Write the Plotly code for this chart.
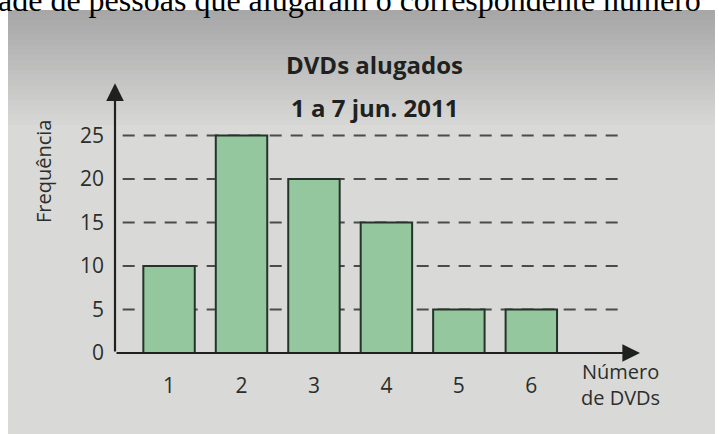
import plotly.graph_objects as go

# Data: number of DVDs rented per person and how many people rented that amount
num_dvds = [1, 2, 3, 4, 5, 6]
frequencia = [10, 25, 20, 15, 5, 5]
y_ticks = [0, 5, 10, 15, 20, 25]

W, H = 719, 434


def px(x):
    return x / W


def py(y):
    return 1 - y / H


FONT = "Open Sans"
INK = "#2b2e2c"

fig = go.Figure()

fig.add_trace(go.Bar(
    x=num_dvds,
    y=frequencia,
    width=0.71,
    marker=dict(color="#94c79d", line=dict(color="#26332b", width=2)),
    hoverinfo="skip",
))

shapes = []
# page / photo background with a darker band at the top
shapes.append(dict(type="rect", xref="paper", yref="paper", x0=px(8), x1=px(715),
                   y0=0, y1=py(10), fillcolor="#d9dad8", line=dict(width=0), layer="below"))
top_c = (166, 167, 166)
bot_c = (217, 218, 216)
n_bands = 24
for i in range(n_bands):
    t = i / (n_bands - 1)
    c = tuple(int(top_c[k] + (bot_c[k] - top_c[k]) * t) for k in range(3))
    ya = 10 + i * 5
    shapes.append(dict(type="rect", xref="paper", yref="paper", x0=px(8), x1=px(715),
                       y0=py(ya + 5.5), y1=py(ya), fillcolor="rgb(%d,%d,%d)" % c,
                       line=dict(width=0), layer="below"))

# dashed reference lines behind the bars
for v in y_ticks[1:]:
    shapes.append(dict(type="line", xref="x", yref="y", x0=0.36, x1=7.3, y0=v, y1=v,
                       line=dict(color="#4a4c4a", width=2, dash="12px,9px"), layer="below"))

annotations = []
# axes drawn as arrows
annotations.append(dict(x=0.254, y=31, xref="x", yref="y", ax=0.254, ay=0, axref="x", ayref="y",
                        showarrow=True, arrowhead=2, arrowsize=1.6, arrowwidth=2.2,
                        arrowcolor="#1e211f", text=""))
annotations.append(dict(x=7.5, y=0, xref="x", yref="y", ax=0.254, ay=0, axref="x", ayref="y",
                        showarrow=True, arrowhead=2, arrowsize=1.6, arrowwidth=2.2,
                        arrowcolor="#1e211f", text=""))


def label(x, y, text, size, **kw):
    d = dict(x=px(x), y=py(y), xref="paper", yref="paper", text=text, showarrow=False,
             xanchor="center", yanchor="middle", font=dict(family=FONT, size=size, color=INK))
    d.update(kw)
    annotations.append(d)


label(374, 65, "<b>DVDs alugados</b>", 24, font=dict(family=FONT, size=24, color="#1f2120"))
label(374, 107, "<b>1 a 7 jun. 2011</b>", 24, font=dict(family=FONT, size=24, color="#1f2120"))
label(43, 172, "Frequência", 20, textangle=-90)
label(620, 384, "Número<br>de DVDs", 20, align="center")
label(-4, 20, "ade de pessoas que alugaram o correspondente número", 32, xanchor="left",
      yanchor="bottom", font=dict(family="Liberation Serif", size=32, color="#000000"))

fig.update_layout(
    width=W, height=H,
    margin=dict(l=0, r=0, t=0, b=0, pad=0),
    paper_bgcolor="#ffffff",
    plot_bgcolor="rgba(0,0,0,0)",
    showlegend=False,
    shapes=shapes,
    annotations=annotations,
    xaxis=dict(domain=[px(115), px(640)], range=[0.254, 7.5], showgrid=False, zeroline=False,
               showline=False, tickvals=num_dvds, ticks="", ticklabelstandoff=18, automargin=False,
               tickfont=dict(family=FONT, size=21, color=INK)),
    yaxis=dict(domain=[py(353), py(92)], range=[0, 30], showgrid=False, zeroline=False,
               showline=False, tickvals=y_ticks, ticks="", ticklabelstandoff=10, automargin=False,
               tickfont=dict(family=FONT, size=21, color=INK)),
)

fig.write_html("out.html")
